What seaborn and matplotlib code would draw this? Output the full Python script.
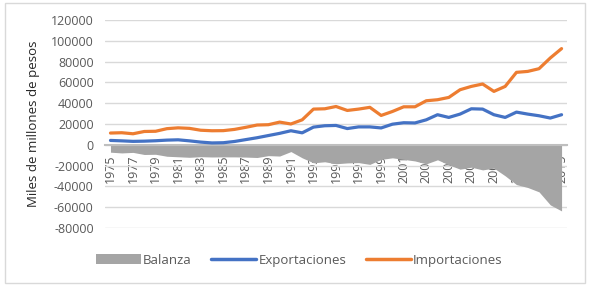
import numpy as np
import pandas as pd
import seaborn as sns
import matplotlib.pyplot as plt
from matplotlib.patches import Rectangle, Patch
from matplotlib.lines import Line2D

years = list(range(1975, 2016))

exportaciones = [4200, 3800, 3300, 3500, 3900, 4500, 4800, 3800, 2600, 1800,
                 2000, 3200, 5000, 6800, 8900, 11000, 13500, 11500, 17000, 18300,
                 18600, 15600, 17200, 17200, 16200, 19800, 21200, 21000, 24000, 28900,
                 26300, 29500, 34600, 34300, 28900, 26300, 31400, 29500, 27900, 25700,
                 28900]

importaciones = [11300, 11600, 10600, 12800, 13000, 15500, 16300, 15800, 14000, 13500,
                 13600, 14800, 16800, 19000, 19300, 21800, 20000, 24000, 34300, 34600,
                 36800, 33000, 34300, 36000, 28200, 32000, 36500, 36500, 42300, 43300,
                 45500, 52900, 56100, 58400, 51300, 56100, 69600, 70500, 73100, 83400,
                 92400]

balanza = [-7100, -7800, -7300, -9300, -9100, -11000, -11500, -12000, -11400, -11700,
           -11600, -11600, -11800, -12200, -10400, -10800, -6500, -12500, -17300, -16300,
           -18200, -17400, -17100, -18800, -14000, -12500, -14000, -15500, -18300, -14400,
           -19200, -23400, -21500, -24100, -22400, -29800, -38200, -41000, -45200, -57700,
           -63500]

df = pd.DataFrame({"year": years, "Exportaciones": exportaciones,
                   "Importaciones": importaciones, "Balanza": balanza})

sns.set_style("white")
plt.rcParams['font.family'] = ['Open Sans', 'DejaVu Sans']

fig = plt.figure(figsize=(5.89, 2.88), dpi=100)
ax = fig.add_axes([0.178, 0.208, 0.785, 0.723])

gray = "#a5a5a5"
blue = "#4472c4"
orange = "#ed7d31"
txt = "#595959"

ax.fill_between(df["year"], 0, df["Balanza"], color=gray, lw=0, zorder=1)
sns.lineplot(data=df, x="year", y="Exportaciones", color=blue, lw=2.3, ax=ax, zorder=3)
sns.lineplot(data=df, x="year", y="Importaciones", color=orange, lw=2.3, ax=ax, zorder=3)

ax.set_xlim(1974.5, 2015.5)
ax.set_ylim(-80000, 120000)
ax.set_yticks(range(-80000, 120001, 20000))
ax.set_yticklabels([str(v) for v in range(-80000, 120001, 20000)])
ax.set_xticks(years[::2])
ax.set_xticklabels([str(y) for y in years[::2]])

ax.grid(axis='y', color="#d9d9d9", lw=1)
ax.grid(axis='x', visible=False)
for s in ["top", "left", "right"]:
    ax.spines[s].set_visible(False)
ax.spines["bottom"].set_position(("data", 0))
ax.spines["bottom"].set_color("#bfbfbf")
ax.spines["bottom"].set_linewidth(1.5)
ax.spines["bottom"].set_zorder(2)

ax.tick_params(axis='x', length=0, pad=7, labelsize=9, labelcolor=txt, labelrotation=90)
ax.tick_params(axis='y', length=0, pad=8, labelsize=9, labelcolor=txt)

ax.set_xlabel("")
ax.set_ylabel("Miles de millones de pesos", fontsize=9.5, color="#262626", labelpad=8)

handles = [Patch(facecolor=gray, edgecolor="none"),
           Line2D([], [], color=blue, lw=2.5),
           Line2D([], [], color=orange, lw=2.5)]
fig.legend(handles, ["Balanza", "Exportaciones", "Importaciones"],
           loc="center", bbox_to_anchor=(0.508, 0.097), ncol=3, frameon=False,
           fontsize=9.5, labelcolor=txt, handlelength=3.4, handleheight=0.7,
           handletextpad=0.15, columnspacing=1.5)

fig.patches.append(Rectangle((0.009, 0.017), 0.984, 0.972, transform=fig.transFigure,
                             fill=False, edgecolor="#d9d9d9", lw=1))

fig.savefig("out.png", dpi=100)
